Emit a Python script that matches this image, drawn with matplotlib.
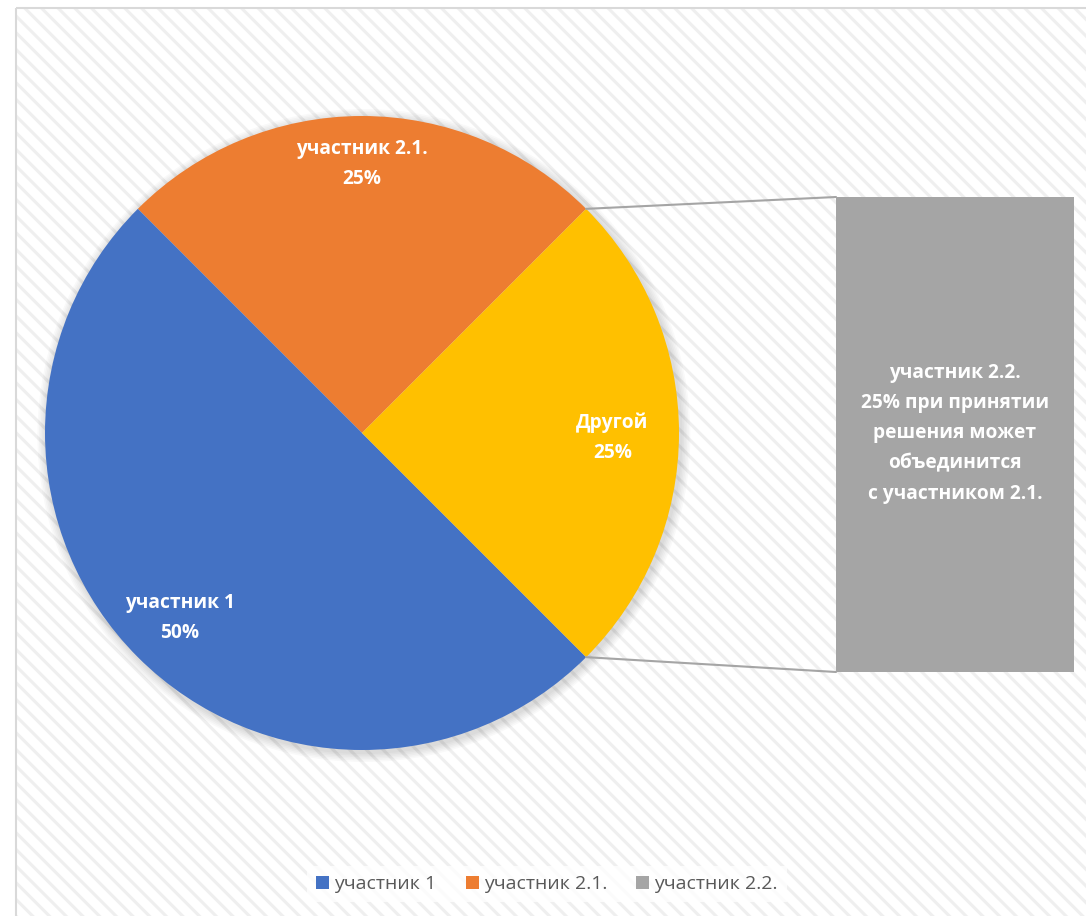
import matplotlib
matplotlib.use("Agg")
import matplotlib.pyplot as plt
from matplotlib.patches import Rectangle, Patch, Circle
from matplotlib.patches import ConnectionPatch
import numpy as np

# ---- data ----
pie_labels = ["участник 2.1.", "участник 1", "Другой"]
pie_values = [25, 50, 25]
pie_colors = ["#ED7D31", "#4472C4", "#FFC000"]
bar_label = "участник 2.2."
bar_value = 25
bar_color = "#A5A5A5"
bar_text = "участник 2.2.\n25% при принятии\nрешения может\nобъединится\nс участником 2.1."
legend_labels = ["участник 1", "участник 2.1.", "участник 2.2."]
legend_colors = ["#4472C4", "#ED7D31", "#A5A5A5"]

plt.rcParams['font.family'] = ['Open Sans', 'DejaVu Sans']
plt.rcParams['hatch.color'] = '#EFEFEF'
plt.rcParams['hatch.linewidth'] = 2.2

W, H = 1086, 916
fig = plt.figure(figsize=(W / 100, H / 100), dpi=100)
fig.patch.set_facecolor('white')

# background axes in pixel coordinates
bg = fig.add_axes([0, 0, 1, 1])
bg.set_xlim(0, W)
bg.set_ylim(H, 0)
bg.axis('off')
bg.add_patch(Rectangle((16, 8), 1200, 1000, facecolor='white', hatch='\\\\', lw=0))
bg.add_patch(Rectangle((16, 8), 1200, 1000, fill=False, edgecolor='#D9D9D9', lw=1.5))

def fig_axes(x0, y0, x1, y1):
    return fig.add_axes([x0 / W, 1 - y1 / H, (x1 - x0) / W, (y1 - y0) / H])

# pie
cx, cy, r = 362, 433, 317
pax = fig_axes(cx - r, cy - r, cx + r, cy + r)
pax.patch.set_alpha(0)
for k in range(6):
    sh = Circle((0.006, -0.008), 1.0 + 0.005 * (k + 1), color='black', alpha=0.022, lw=0)
    sh.set_clip_on(False)
    pax.add_patch(sh)
wedges, _ = pax.pie(pie_values, colors=pie_colors, startangle=45, counterclock=True,
                    radius=1, center=(0, 0), frame=True)
pax.set_xlim(-1, 1)
pax.set_ylim(-1, 1)
pax.set_aspect('auto')
pax.axis('off')

label_pos = [(0.0, 0.848), (-0.574, -0.584), (0.79, -0.015)]
for lab, v, (x, y) in zip(pie_labels, pie_values, label_pos):
    pax.text(x, y, f"{lab}\n{v}%", ha='center', va='center', color='white',
             fontsize=13.8, fontweight='bold', linespacing=1.63)

# bar
bax = fig_axes(836, 197, 1074, 672)
bax.bar([0], [bar_value], width=1.0, color=bar_color, edgecolor='none')
bax.set_xlim(-0.5, 0.5)
bax.set_ylim(0, bar_value)
bax.axis('off')
bax.text(0, bar_value / 2 + 0.06, bar_text, ha='center', va='center', color='white',
         fontsize=13.8, fontweight='bold', linespacing=1.68)

# connector lines
ang1, ang2 = np.deg2rad(45), np.deg2rad(-45)
for ang, yb in [(ang1, bar_value), (ang2, 0)]:
    con = ConnectionPatch(xyA=(np.cos(ang), np.sin(ang)), coordsA=pax.transData,
                          xyB=(-0.5, yb), coordsB=bax.transData,
                          color='#A5A5A5', lw=1.5)
    fig.add_artist(con)

# legend
handles = [Patch(facecolor=c, edgecolor='none') for c in legend_colors]
leg = fig.legend(handles, legend_labels, loc='center', bbox_to_anchor=(547 / W, 1 - 884 / H),
                 ncol=3, frameon=True, fancybox=False, fontsize=14,
                 handlelength=0.67, handleheight=0.67, handletextpad=0.26, columnspacing=1.5,
                 borderpad=0.45, borderaxespad=0)
leg.get_frame().set_facecolor('white')
leg.get_frame().set_edgecolor('none')
for t in leg.get_texts():
    t.set_color('#595959')

fig.savefig('out.png', dpi=100)
